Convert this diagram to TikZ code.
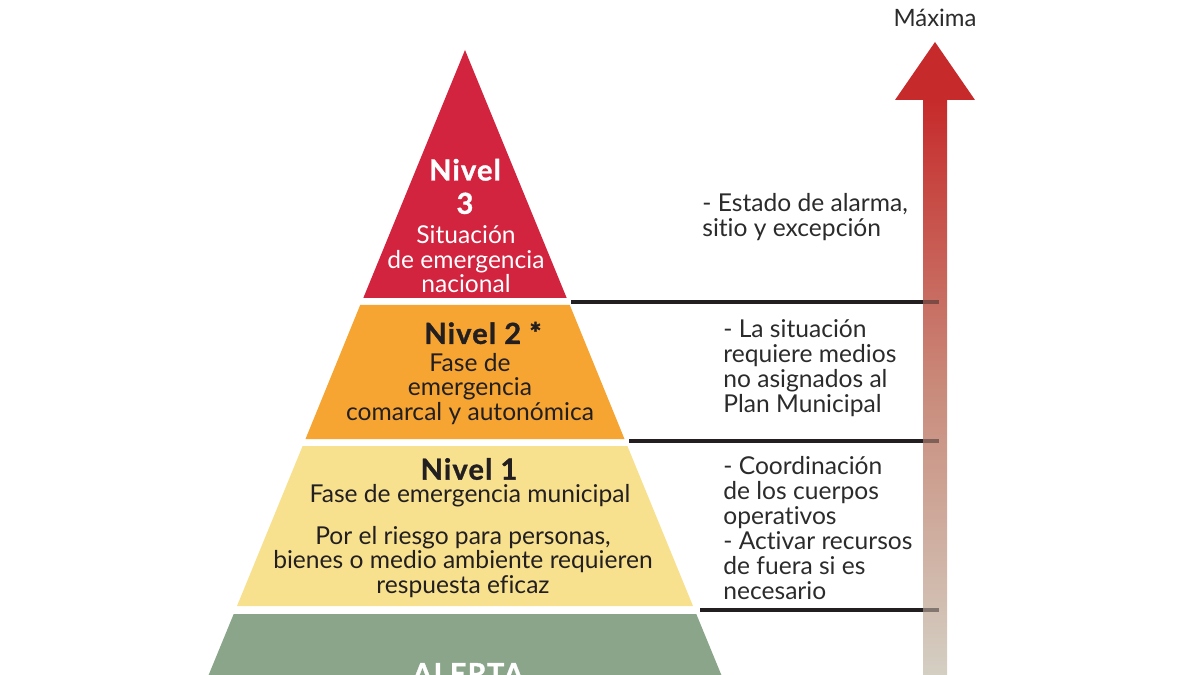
\documentclass[tikz,border=0pt]{standalone}
\usepackage{fontspec}
\setmainfont{Lato}[Ligatures=NoCommon]
\newfontfamily\titlefont[LetterSpace=4, Ligatures=NoCommon, BoldFeatures={FakeBold=1.2}]{Lato}
\definecolor{tierred}{HTML}{D2233F}
\definecolor{tierorange}{HTML}{F6A533}
\definecolor{tieryellow}{HTML}{F7E18F}
\definecolor{tiergreen}{HTML}{8BA58A}
\definecolor{inkdark}{HTML}{231F20}
\definecolor{inkgray}{HTML}{2B2B2B}
\definecolor{arrowtop}{HTML}{C62A2A}
\definecolor{arrowmid}{HTML}{C98A7A}
\definecolor{arrowbot}{HTML}{D4CFC3}
\tikzset{
  titletext/.style={align=center, inner sep=0pt, font=\titlefont\bfseries\fontsize{16.5}{19}\selectfont},
  bodytext/.style={align=center, inner sep=0pt, font=\fontsize{14}{13.9}\selectfont},
  sidetext/.style={align=left, inner sep=0pt, anchor=west, text=inkgray, font=\fontsize{14}{14.2}\selectfont},
  sepline/.style={draw=inkdark, line width=2pt},
}
\begin{document}
\begin{tikzpicture}[x=0.02cm,y=-0.02cm]
\useasboundingbox (0,0) rectangle (1200,675);
\clip (0,0) rectangle (1200,675);
% pyramid tiers
\fill[tierred] (465,50) -- (566.7,298) -- (363.3,298) -- cycle;
\fill[tierorange] (360.2,305) -- (569.8,305) -- (624.5,439) -- (305.5,439) -- cycle;
\fill[tieryellow] (302.6,446) -- (627.4,446) -- (693,606) -- (237,606) -- cycle;
\fill[tiergreen] (233.7,614) -- (696.3,614) -- (730,696) -- (200,696) -- cycle;
% arrow
\shade[top color=arrowtop, bottom color=arrowbot, middle color=arrowmid] (923,98) rectangle (947,675);
\fill[arrowtop] (935,42) -- (975,100) -- (895,100) -- cycle;
% separator lines
\coordinate (l1a) at (571,302); \coordinate (l1b) at (923,302); \coordinate (l1c) at (939,302);
\coordinate (l2a) at (629,441); \coordinate (l2b) at (923,441); \coordinate (l2c) at (939,441);
\coordinate (l3a) at (700,610); \coordinate (l3b) at (923,610); \coordinate (l3c) at (939,610);
\draw[sepline] (l1a) -- (l1b);
\draw[sepline, opacity=.45] (l1b) -- (l1c);
\draw[sepline] (l2a) -- (l2b);
\draw[sepline, opacity=.45] (l2b) -- (l2c);
\draw[sepline] (l3a) -- (l3b);
\draw[sepline, opacity=.45] (l3b) -- (l3c);
% top label
\node[text=inkgray, inner sep=0pt, font=\fontsize{13.6}{14}\selectfont] (maxima) at (935,18) {Máxima};
% tier texts
\node[titletext, text=white] (n3t) at (465,186.5) {Nivel\\3};
\node[bodytext, text=white] (n3b) at (466,259.5) {Situación\\de emergencia\\nacional};
\node[titletext, text=inkdark] (n2t) at (483,333) {Nivel 2 *};
\node[bodytext, text=inkdark] (n2b) at (470,389) {Fase de\\emergencia\\comarcal y autonómica};
\node[titletext, text=inkdark] (n1t) at (469,469) {Nivel 1};
\node[bodytext, text=inkdark] (n1a) at (470,496) {Fase de emergencia municipal};
\node[bodytext, text=inkdark] (n1b) at (463,562) {Por el riesgo para personas,\\bienes o medio ambiente requieren\\respuesta eficaz};
\node[titletext, text=white, anchor=base] (alerta) at (468,684) {ALERTA};
% side texts
\node[sidetext] (s3) at (702,217) {- Estado de alarma,\\sitio y excepción};
\node[sidetext] (s2) at (723,368.5) {- La situación\\requiere medios\\no asignados al\\Plan Municipal};
\node[sidetext] (s1) at (723,528) {- Coordinación\\de los cuerpos\\operativos\\- Activar recursos\\de fuera si es\\necesario};
\end{tikzpicture}
\end{document}
